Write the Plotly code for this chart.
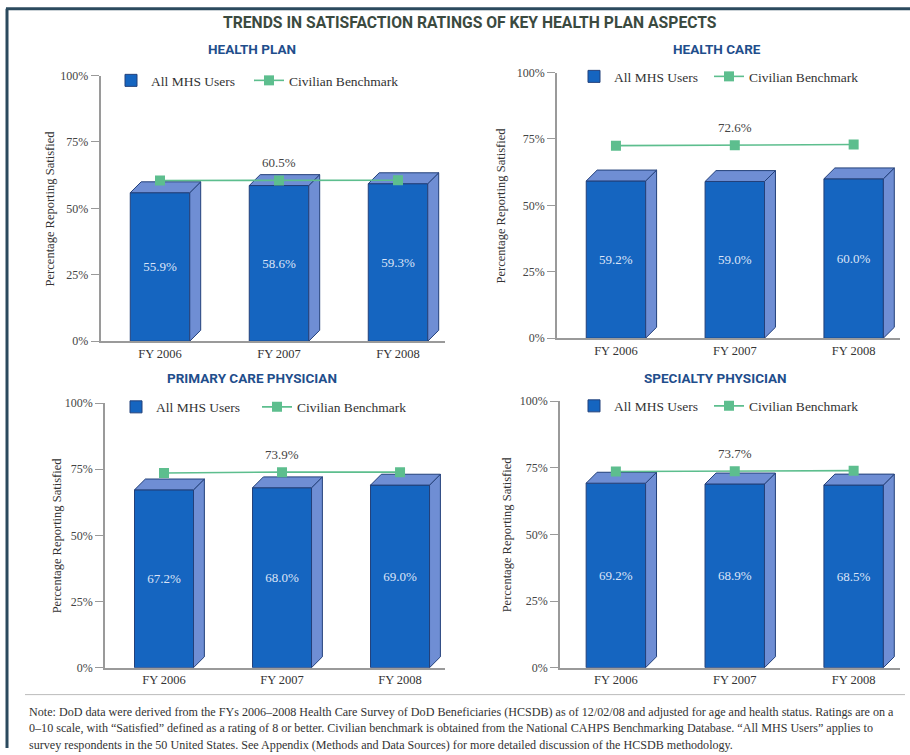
import plotly.graph_objects as go

# ---- data -------------------------------------------------------------
years = ["FY 2006", "FY 2007", "FY 2008"]
panel_titles = ["HEALTH PLAN", "HEALTH CARE", "PRIMARY CARE PHYSICIAN", "SPECIALTY PHYSICIAN"]
mhs_health_plan = [55.9, 58.6, 59.3]
mhs_health_care = [59.2, 59.0, 60.0]
mhs_primary_care = [67.2, 68.0, 69.0]
mhs_specialty = [69.2, 68.9, 68.5]
bench_health_plan = [60.5, 60.5, 60.6]
bench_health_care = [72.5, 72.6, 72.9]
bench_primary_care = [73.6, 73.9, 73.9]
bench_specialty = [73.6, 73.7, 73.9]
y_ticks = [0, 25, 50, 75, 100]
y_tick_text = ["0%", "25%", "50%", "75%", "100%"]

W, H = 910, 755
FRONT = "#1565C0"
SIDE = "#6F8ED4"
EDGE = "#23407A"
BENCH = "#5DBE8E"
SERIF = "Liberation Serif, Times New Roman, serif"
HEAD = "Roboto, Arial, sans-serif"


def py(y):
    """Vertical pixel position -> paper fraction (with layout calibration)."""
    return 1 - ((y - 6.3) / 0.983) / H


# panel boxes in pixels: (left, right, top, bottom), x ranges,
# legend anchors (bar legend x, line legend x, legend y) and y-title x
panels = [
    dict(box=(100.5, 445, 75, 341), xr=(-0.5, 2.395), leg=(111, 249, 80), ytx=50,
         mhs=mhs_health_plan, bench=bench_health_plan),
    dict(box=(557, 900, 72, 338), xr=(-0.496, 2.39), leg=(574, 709, 76), ytx=501,
         mhs=mhs_health_care, bench=bench_health_care),
    dict(box=(105, 445, 403, 668), xr=(-0.5, 2.381), leg=(116, 257, 407), ytx=57,
         mhs=mhs_primary_care, bench=bench_primary_care),
    dict(box=(560, 900, 401, 668), xr=(-0.47, 2.39), leg=(574, 709, 406), ytx=507,
         mhs=mhs_specialty, bench=bench_specialty),
]

BAR_W = 0.5   # front-face width in category units
DX = 0.092    # depth offset, category units
DY = 4.1      # depth offset, percent units

fig = go.Figure()
annotations = []
shapes = []

for i, p in enumerate(panels):
    n = "" if i == 0 else str(i + 1)
    xa, ya = "x" + n, "y" + n
    leg_bar = "legend" if i == 0 else "legend" + str(2 * i + 1)
    leg_line = "legend" + str(2 * i + 2)
    xs = list(range(len(years)))
    L, R, T, B = p["box"]

    # front faces
    fig.add_trace(go.Bar(
        x=xs, y=p["mhs"], width=BAR_W, xaxis=xa, yaxis=ya,
        marker=dict(color=FRONT, line=dict(color=EDGE, width=1)),
        name="All MHS Users", legend=leg_bar,
        texttemplate="%{y:.1f}%", textposition="inside", insidetextanchor="middle",
        textangle=0,
        textfont=dict(family=SERIF, size=13, color="#DCE4F7"),
        hoverinfo="skip",
    ))

    # side and top faces of each bar
    sx, sy, tx, ty = [], [], [], []
    for x, v in zip(xs, p["mhs"]):
        r = x + BAR_W / 2
        l = x - BAR_W / 2
        sx += [r, r + DX, r + DX, r, r, None]
        sy += [0, DY, v + DY, v, 0, None]
        tx += [l, l + DX, r + DX, r, l, None]
        ty += [v, v + DY, v + DY, v, v, None]
    for px, pyy in ((sx, sy), (tx, ty)):
        fig.add_trace(go.Scatter(
            x=px, y=pyy, xaxis=xa, yaxis=ya, mode="lines", fill="toself",
            fillcolor=SIDE, line=dict(color=EDGE, width=1),
            showlegend=False, hoverinfo="skip",
        ))

    # civilian benchmark line
    fig.add_trace(go.Scatter(
        x=xs, y=p["bench"], xaxis=xa, yaxis=ya, mode="lines+markers",
        line=dict(color=BENCH, width=1.6),
        marker=dict(symbol="square", size=10, color=BENCH),
        name="Civilian Benchmark", legend=leg_line, hoverinfo="skip",
    ))
    annotations.append(dict(
        x=xs[1], y=p["bench"][1], xref=xa, yref=ya, xanchor="center", yanchor="middle",
        text=f"{p['bench'][1]:.1f}%", showarrow=False, yshift=18,
        font=dict(family=SERIF, size=13, color="#444444"),
    ))

    xd = [L / W, R / W]
    yd = [py(B), py(T)]
    fig.layout["xaxis" + n] = dict(
        domain=xd, anchor=ya, range=list(p["xr"]), tickvals=xs, ticktext=years,
        showline=True, linecolor="#9A9A9A", linewidth=1.5, ticks="",
        showgrid=False, zeroline=False, fixedrange=True,
        tickfont=dict(family=SERIF, size=12.5, color="#333333"),
    )
    fig.layout["yaxis" + n] = dict(
        domain=yd, anchor=xa, range=[0, 100], tickvals=y_ticks, ticktext=y_tick_text,
        showline=True, linecolor="#9A9A9A", linewidth=1.5, ticks="outside",
        ticklen=8, tickcolor="#9A9A9A", tickwidth=1.2,
        showgrid=False, zeroline=False, fixedrange=True,
        tickfont=dict(family=SERIF, size=12, color="#444444"),
    )
    bx, lx, ly = p["leg"]
    for lg, gx in ((leg_bar, bx), (leg_line, lx)):
        fig.layout[lg] = dict(
            orientation="h", x=gx / W, y=py(ly),
            xanchor="left", yanchor="middle", bgcolor="rgba(0,0,0,0)",
            font=dict(family=SERIF, size=13.5, color="#333333"),
            itemwidth=30,
        )

    # y-axis title
    annotations.append(dict(
        x=p["ytx"] / W, y=py((T + B) / 2), xref="paper", yref="paper",
        xanchor="center", yanchor="middle",
        text="Percentage Reporting Satisfied", textangle=-90, showarrow=False,
        font=dict(family=SERIF, size=12.5, color="#333333"),
    ))

# panel headings
heading_pos = [(252, 48), (717, 48), (252, 378), (715, 378)]
for t, (hx, hy) in zip(panel_titles, heading_pos):
    annotations.append(dict(
        x=hx / W, y=py(hy), xref="paper", yref="paper", xanchor="center", yanchor="middle",
        text=t, showarrow=False,
        font=dict(family=HEAD, size=13.5, color="#1F4E8C", weight="bold"),
    ))

# main title
annotations.append(dict(
    x=470 / W, y=py(22), xref="paper", yref="paper", xanchor="center", yanchor="middle",
    text="TRENDS IN SATISFACTION RATINGS OF KEY HEALTH PLAN ASPECTS", showarrow=False,
    font=dict(family=HEAD, size=15.7, color="#3B4A3F", weight="bold"),
))

# footnote, one annotation per line
note_lines = [
    "Note: DoD data were derived from the FYs 2006\u20132008 Health Care Survey of DoD Beneficiaries (HCSDB) as of 12/02/08 and adjusted for age and health status. Ratings are on a",
    "0\u201310 scale, with \u201cSatisfied\u201d defined as a rating of 8 or better. Civilian benchmark is obtained from the National CAHPS Benchmarking Database. \u201cAll MHS Users\u201d applies to",
    "survey respondents in the 50 United States. See Appendix (Methods and Data Sources) for more detailed discussion of the HCSDB methodology.",
]
for line, ny in zip(note_lines, (712, 728.5, 745)):
    annotations.append(dict(
        x=27 / W, y=py(ny), xref="paper", yref="paper", xanchor="left", yanchor="middle",
        align="left", text=line, showarrow=False,
        font=dict(family=SERIF, size=12.1, color="#333333"),
    ))

# frame and separator
shapes += [
    dict(type="line", xref="paper", yref="paper", x0=7 / W, x1=7 / W, y0=0, y1=py(8),
         line=dict(color="#2B4A5E", width=3)),
    dict(type="line", xref="paper", yref="paper", x0=6 / W, x1=1, y0=py(8), y1=py(8),
         line=dict(color="#2B4A5E", width=3)),
    dict(type="line", xref="paper", yref="paper", x0=25 / W, x1=905 / W, y0=py(695), y1=py(695),
         line=dict(color="#BBBBBB", width=1)),
]

fig.update_layout(
    width=W, height=H, margin=dict(l=0, r=0, t=0, b=0),
    paper_bgcolor="white", plot_bgcolor="white",
    annotations=annotations, shapes=shapes, barmode="overlay",
)

fig.write_html("out.html")
